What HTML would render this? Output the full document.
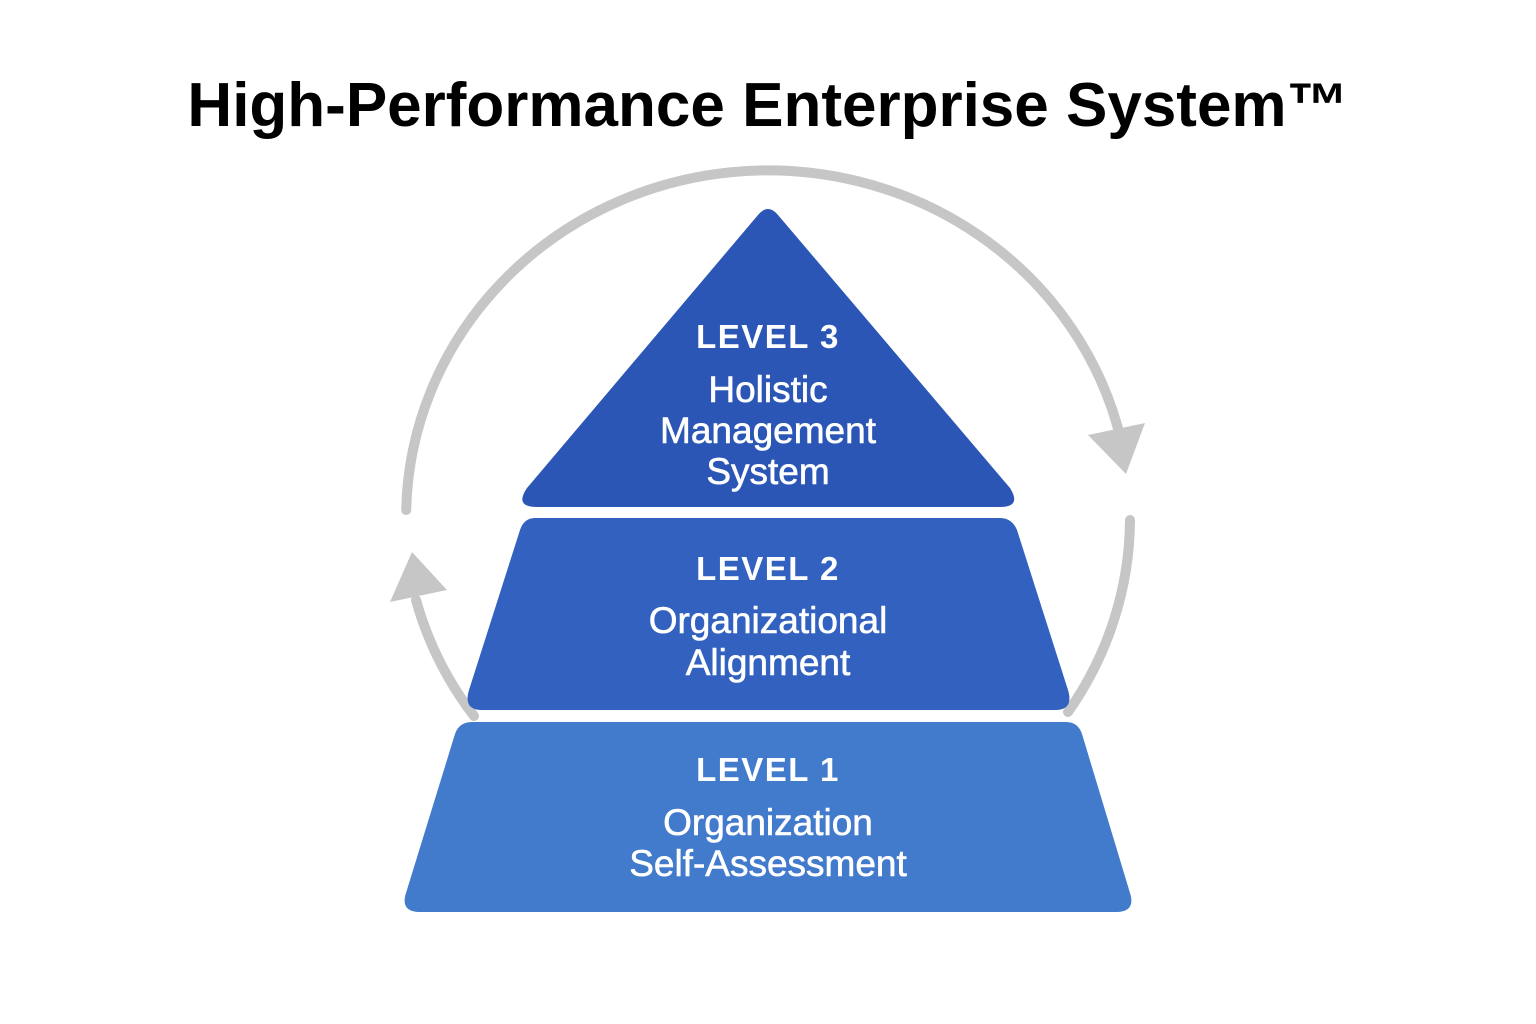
<!DOCTYPE html>
<html><head><meta charset="utf-8"><style>
html,body{margin:0;padding:0;background:#fff;}
svg{display:block}
</style></head><body>
<svg width="1536" height="1024" viewBox="0 0 1536 1024" xmlns="http://www.w3.org/2000/svg">
<rect width="1536" height="1024" fill="#fff"/>
<text x="768" y="126" text-anchor="middle" font-family="Liberation Sans, sans-serif" font-weight="bold" font-size="62" fill="#000">High-Performance Enterprise System™</text>
<g fill="none" stroke="#c6c6c6" stroke-width="10" stroke-linecap="round">
<path d="M406.2 510 A362 347 0 0 1 1121 440"/>
<path d="M1130 520 A362 347 0 0 1 1068 712"/>
<path d="M474 716 A362 347 0 0 1 416 600"/>
</g>
<polygon points="1088,435 1145,423 1126,474" fill="#c6c6c6"/>
<polygon points="390,602 447,590 412,552" fill="#c6c6c6"/>
<path d="M758 215 Q768 203 778 215 L1010 488 Q1022 507 1000 507 L537 507 Q514 507 527 488 Z" fill="#2b56b6"/>
<path d="M535 518 L1000 518 Q1012 518 1017 530 L1068 690 Q1074 710 1055 710 L482 710 Q463 710 469 690 L520 530 Q524 518 535 518 Z" fill="#3261c0"/>
<path d="M472 722 L1066 722 Q1078 722 1082 734 L1130 893 Q1136 912 1116 912 L420 912 Q400 912 406 893 L455 734 Q459 722 472 722 Z" fill="#427acc"/>
<g font-family="Liberation Sans, sans-serif" fill="#fff" text-anchor="middle">
<text x="768" y="348" font-size="33" font-weight="bold" letter-spacing="1.5">LEVEL 3</text>
<text x="768" y="402" font-size="37" stroke="#fff" stroke-width="0.6">Holistic</text>
<text x="768" y="443" font-size="37" stroke="#fff" stroke-width="0.6">Management</text>
<text x="768" y="484" font-size="37" stroke="#fff" stroke-width="0.6">System</text>
<text x="768" y="580" font-size="33" font-weight="bold" letter-spacing="1.5">LEVEL 2</text>
<text x="768" y="633" font-size="37" stroke="#fff" stroke-width="0.6">Organizational</text>
<text x="768" y="675" font-size="37" stroke="#fff" stroke-width="0.6">Alignment</text>
<text x="768" y="781" font-size="33" font-weight="bold" letter-spacing="1.5">LEVEL 1</text>
<text x="768" y="835" font-size="37" stroke="#fff" stroke-width="0.6">Organization</text>
<text x="768" y="876" font-size="37" stroke="#fff" stroke-width="0.6">Self-Assessment</text>
</g>
</svg>
</body></html>
